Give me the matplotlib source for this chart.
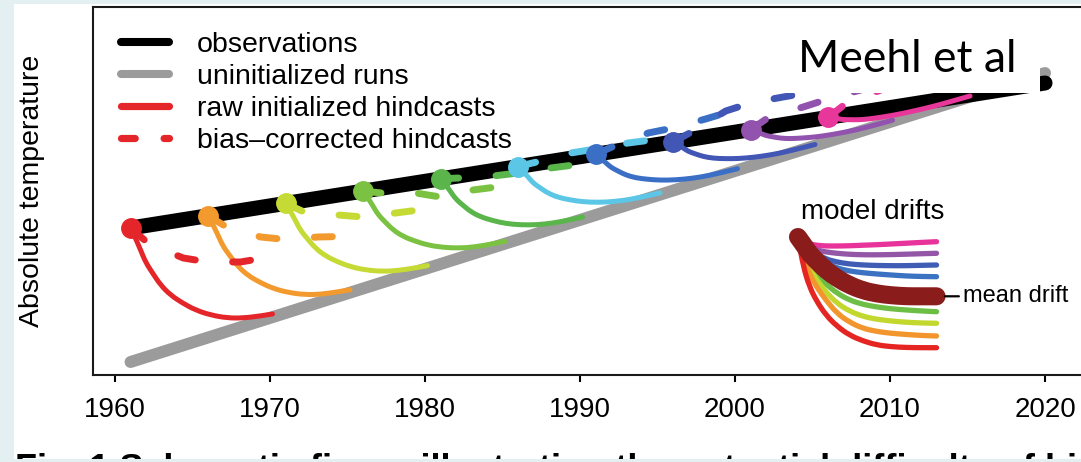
import matplotlib
matplotlib.use("Agg")
import matplotlib.pyplot as plt
from matplotlib.lines import Line2D
from matplotlib.patches import Rectangle, PathPatch
from matplotlib.path import Path
import numpy as np

plt.rcParams['font.family'] = ['Liberation Sans', 'DejaVu Sans']

# ---------------- data (schematic, arbitrary temperature units) ----------------
obs_years = [1961, 2020]
obs_temp = [147, 292]
uninit_years = [1961, 2020]
uninit_temp = [13, 302]

start_years = [1961, 1966, 1971, 1976, 1981, 1986, 1991, 1996, 2001, 2006]
hind_colors = ['#E4262A', '#F39A2E', '#C6DA36', '#7CC242', '#5AB54A',
               '#5CC6E6', '#3B6FC6', '#4156B5', '#9153AE', '#E8379B']

lead = [0, 0.32, 0.65, 0.97, 1.42, 1.94, 2.58, 3.35, 4.19, 5.16, 6.26, 7.29, 8.39, 9.16]
raw_1961 = [147.0, 136.9, 125.0, 112.9, 102.0, 90.0, 80.0, 72.0, 65.0, 60.0, 57.0, 57.0, 59.1, 61.0]
raw_1966 = [159.3, 150.3, 139.6, 128.7, 119.0, 108.4, 99.5, 92.6, 86.6, 82.5, 80.3, 80.7, 83.2, 85.2]
raw_1971 = [171.6, 163.6, 154.2, 144.6, 136.1, 126.7, 119.1, 113.2, 108.3, 105.0, 103.6, 104.5, 107.2, 109.4]
raw_1976 = [183.9, 177.0, 168.8, 160.4, 153.1, 145.1, 138.6, 133.9, 129.9, 127.6, 126.9, 128.2, 131.3, 133.7]
raw_1981 = [196.2, 190.3, 183.4, 176.2, 170.1, 163.4, 158.2, 154.5, 151.5, 150.1, 150.2, 152.0, 155.3, 157.9]
raw_1986 = [208.5, 203.7, 198.0, 192.1, 187.2, 181.8, 177.7, 175.1, 173.2, 172.6, 173.5, 175.7, 179.4, 182.1]
raw_1991 = [220.7, 217.0, 212.5, 207.9, 204.2, 200.1, 197.2, 195.7, 194.8, 195.1, 196.7, 199.4, 203.4, 206.3]
raw_1996 = [233.0, 230.4, 227.1, 223.7, 221.2, 218.5, 216.8, 216.3, 216.4, 217.6, 220.0, 223.2, 227.5, 230.5]
raw_2001 = [245.3, 243.7, 241.7, 239.5, 238.2, 236.8, 236.3, 237.0, 238.0, 240.2, 243.3, 246.9, 251.5, 254.8]
raw_2006 = [257.6, 257.1, 256.3, 255.4, 255.3, 255.2, 255.9, 257.6, 259.7, 262.7, 266.6, 270.7, 275.6, 279.0]
raw_hindcasts = [raw_1961, raw_1966, raw_1971, raw_1976, raw_1981,
                 raw_1986, raw_1991, raw_1996, raw_2001, raw_2006]

bc_lead = [0, 1.2, 3.4, 5.0, 7.1, 8.6, 9.2]
bc_1961 = [147.0, 131, 117, 113, 113, 117, 119]
bc_1966 = [159.3, 148, 138, 135.5, 138, 138.5, 139]
bc_1971 = [171.6, 163, 160, 158, 162, 165, 166]
bc_1976 = [183.9, 182, 182, 178, 185, 188, 189]
bc_1981 = [196.2, 197, 199, 202, 207, 210, 211]
bc_1986 = [208.5, 213, 222, 226, 232, 235, 237]
bc_1991 = [220.7, 229, 242, 247, 256, 263, 266]
bc_1996 = [233.0, 243, 264, 272, 278, 282, 284]
bc_2001 = [245.3, 258, 268, 276, 285, 293, 296]
bc_2006 = [257.6, 272, 285, 293, 300, 306, 308]
bc_hindcasts = [bc_1961, bc_1966, bc_1971, bc_1976, bc_1981,
                bc_1986, bc_1991, bc_1996, bc_2001, bc_2006]

# model drift inset
drift_lead = [0, 0.35, 0.75, 1.2, 1.8, 2.5, 3.3, 4.2, 5.1, 6.0, 7.0, 8.0, 8.94]
drift_pink = [0, -4, -7, -8.3, -9, -9, -8.8, -8.2, -7.7, -7.0, -6.2, -5.4, -4.7]
drift_purple = [0, -5, -10, -13, -15, -16.3, -17.3, -17.8, -17.8, -17.6, -17.2, -16.7, -16.3]
drift_indigo = [0, -6, -12, -17, -22, -25, -27, -28, -28.5, -28.7, -28.7, -28.3, -28]
drift_blue = [0, -7, -14, -20, -26, -31, -34, -35.8, -37, -38, -39, -39.5, -39.7]
drift_green = [0, -14, -27, -37, -47, -56, -63, -67.5, -70, -71.8, -73, -74, -74.7]
drift_lime = [0, -16, -31, -43, -55, -66, -74, -79.5, -82.3, -84, -85.3, -86, -86.3]
drift_orange = [0, -20, -37, -50, -63, -76, -85, -91.5, -94.5, -96.3, -97.5, -98.5, -99]
drift_red = [0, -30, -50, -64, -78, -89, -98, -104, -108, -109.7, -110.5, -110.7, -110.7]
drift_mean = [0, -7.5, -16.6, -24, -33, -41, -48, -53.5, -56.6, -58.3, -59.3, -59.3, -59.3]
drift_lines = [drift_pink, drift_purple, drift_indigo, drift_blue,
               drift_green, drift_lime, drift_orange, drift_red]
drift_colors = ['#E8339A', '#9457A8', '#3F5DB5', '#3C72C2',
                '#6CBE45', '#C3D82F', '#F2952C', '#E42522']

xtick_years = [1960, 1970, 1980, 1990, 2000, 2010, 2020]
legend_labels = ['observations', 'uninitialized runs',
                 'raw initialized hindcasts', 'bias\u2013corrected hindcasts']
caption = 'Fig. 1 Schematic figure illustrating the potential difficulty of bias correction'


def smooth_path(xs, ys):
    """Quadratic-Bezier chain through the read points (drawn by matplotlib)."""
    pts = np.column_stack([xs, ys]).astype(float)
    mids = (pts[:-1] + pts[1:]) / 2
    verts = [pts[0], mids[0]]
    codes = [Path.MOVETO, Path.LINETO]
    for i in range(1, len(pts) - 1):
        verts += [pts[i], mids[i]]
        codes += [Path.CURVE3, Path.CURVE3]
    verts.append(pts[-1])
    codes.append(Path.LINETO)
    return Path(verts, codes)


# ---------------- figure ----------------
W, H = 1081, 462
fig = plt.figure(figsize=(W / 100, H / 100), dpi=100)
fig.patch.set_facecolor('white')

ax = fig.add_axes([93 / W, 87 / H, 997 / W, 368 / H])
ax.set_xlim(1958.58, 2022.9)
ax.set_ylim(0, 368)
ax.spines['right'].set_visible(False)
for s in ['top', 'left', 'bottom']:
    ax.spines[s].set_linewidth(1.5)
    ax.spines[s].set_color('#1a1a1a')
ax.set_yticks([])
ax.set_xticks(xtick_years)
ax.tick_params(axis='x', direction='out', length=5, width=1.5, labelsize=20, pad=11)
ax.set_ylabel('Absolute temperature', fontsize=20.5)
ax.yaxis.set_label_coords(-0.048, 0.5)

ax.plot(uninit_years, uninit_temp, color='#9b9b9b', lw=8.6, solid_capstyle='round', zorder=2)
ax.plot(obs_years, obs_temp, color='black', lw=10.8, solid_capstyle='round', zorder=3)

for t0, raw, bc, c in zip(start_years, raw_hindcasts, bc_hindcasts, hind_colors):
    yrs = [t0 + l for l in lead]
    ax.add_patch(PathPatch(smooth_path(yrs, raw), fill=False, edgecolor=c, lw=3.6,
                           capstyle='round', joinstyle='round', zorder=4))
    byrs = [t0 + l for l in bc_lead]
    ax.plot(byrs, bc, color=c, lw=5, linestyle=(0, (2.6, 5.4)),
            dash_capstyle='round', zorder=5)
    ax.plot([t0], [raw[0]], 'o', ms=14, color=c, mec=c, zorder=6)

handles = [Line2D([], [], color='black', lw=5.8, solid_capstyle='round'),
           Line2D([], [], color='#9b9b9b', lw=5.8, solid_capstyle='round'),
           Line2D([], [], color='#E4262A', lw=5.2, solid_capstyle='round'),
           Line2D([], [], color='#E4262A', lw=5.2, linestyle=(0, (1.9, 4.0)),
                  dash_capstyle='round')]
ax.legend(handles, legend_labels, loc='upper left', bbox_to_anchor=(0.028, 0.933),
          frameon=False, fontsize=20.5, handlelength=1.68, handletextpad=0.98,
          labelspacing=0.21, borderpad=0, borderaxespad=0)

# model drifts inset
ins = ax.inset_axes([2004.06, 8, 9.0, 140], transform=ax.transData)
ins.set_xlim(0, 9)
ins.set_ylim(-130, 10)
ins.axis('off')
ins.patch.set_alpha(0)
for d, c in zip(drift_lines, drift_colors):
    ins.add_patch(PathPatch(smooth_path(drift_lead, d), fill=False, edgecolor=c, lw=3.8,
                            capstyle='round', joinstyle='round', clip_on=False))
ins.add_patch(PathPatch(smooth_path(drift_lead, drift_mean), fill=False, edgecolor='#8A1C1C',
                        lw=13, capstyle='round', joinstyle='round', clip_on=False))
ins.annotate('mean drift', xy=(drift_lead[-1], drift_mean[-1]),
             xytext=(10.65, drift_mean[-1]), textcoords='data', fontsize=17,
             ha='left', va='center', annotation_clip=False,
             arrowprops=dict(arrowstyle='-', lw=1.6, color='black', shrinkA=1, shrinkB=6))
ax.text(2008.9, 163, 'model drifts', fontsize=20, ha='center', va='center')

# overlay box with citation
fig.add_artist(Rectangle((775 / W, 1 - 93 / H), (1040 - 775) / W, (93 - 10) / H,
                         transform=fig.transFigure, facecolor='white',
                         edgecolor='none', zorder=20))
fig.text(798 / W, 1 - 72 / H, 'Meehl et al', fontsize=32, family=['Lato', 'DejaVu Sans'],
         va='baseline', ha='left', zorder=21)

# caption (cut off at the bottom of the screenshot, as in the reference)
fig.text(15 / W, (H - 480) / H, caption, fontsize=26, fontweight='bold',
         va='baseline', ha='left', zorder=21)

# light blue page background strips
bg = '#e4eff2'
fig.add_artist(Rectangle((0, 0), 14 / W, 1, transform=fig.transFigure,
                         facecolor=bg, edgecolor='none', zorder=30))
fig.add_artist(Rectangle((0, 1 - 4 / H), 1, 4 / H, transform=fig.transFigure,
                         facecolor=bg, edgecolor='none', zorder=30))
fig.add_artist(Rectangle((0, 0), 1, 3 / H, transform=fig.transFigure,
                         facecolor=bg, edgecolor='none', zorder=30))

fig.savefig('out.png', dpi=100)
